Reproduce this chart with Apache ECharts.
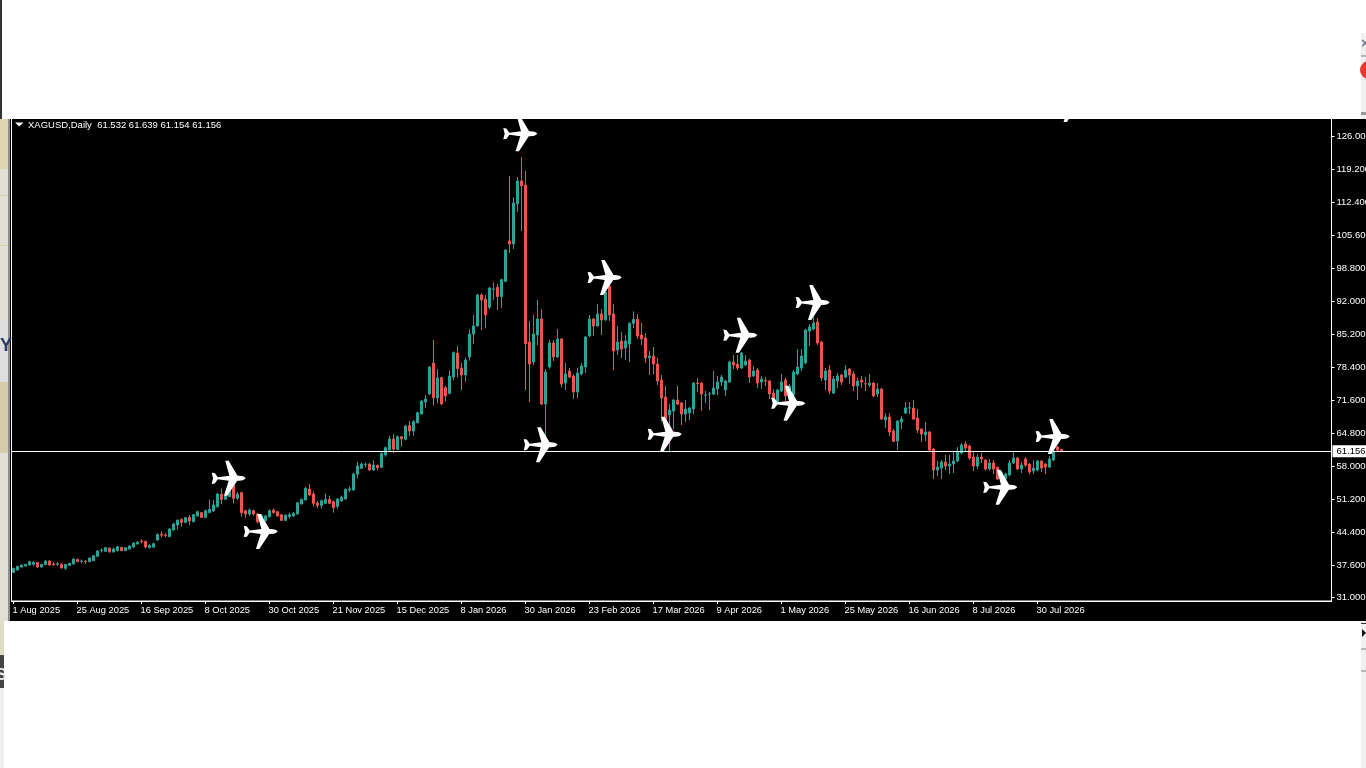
<!DOCTYPE html>
<html><head><meta charset="utf-8">
<style>html,body{margin:0;padding:0;background:#fff;overflow:hidden}#c{width:1366px;height:768px}</style>
<script src="https://cdn.jsdelivr.net/npm/echarts@6/dist/echarts.min.js"></script>
</head><body><div id="c"></div>
<script>
const tickLabels=["1 Aug 2025","25 Aug 2025","16 Sep 2025","8 Oct 2025","30 Oct 2025","21 Nov 2025","15 Dec 2025","8 Jan 2026","30 Jan 2026","23 Feb 2026","17 Mar 2026","9 Apr 2026","1 May 2026","25 May 2026","16 Jun 2026","8 Jul 2026","30 Jul 2026"];
const priceTicks=[31,37.6,44.4,51.2,58,64.8,71.6,78.4,85.2,92,98.8,105.6,112.4,119.2,126];
const opens=[36.19,36.67,37.29,37.50,37.70,37.84,38.25,37.29,37.77,38.53,
37.91,37.84,37.91,37.02,37.63,37.91,38.87,38.50,38.50,38.39,
38.59,39.49,40.70,40.52,41.20,40.38,40.66,41.34,40.66,41.00,
41.41,42.03,42.60,42.58,41.34,41.40,42.85,44.02,43.90,43.54,
44.91,45.94,47.11,46.49,47.52,46.63,47.80,48.49,47.52,48.49,
48.83,49.72,52.33,51.23,51.80,54.19,51.44,52.61,48.90,48.21,
48.90,48.21,47.10,46.84,47.66,49.03,48.69,48.07,46.90,47.66,
47.80,48.21,50.27,51.10,53.36,52.33,50.48,50.00,50.41,51.23,
50.75,49.79,50.89,51.30,53.20,53.16,56.40,57.62,58.42,58.51,
57.28,58.24,57.83,60.37,61.40,63.66,61.53,64.15,63.60,66.41,
65.31,67.03,68.82,71.29,72.94,79.33,72.11,76.30,74.24,73.07,
76.44,81.38,78.29,76.85,80.56,85.30,86.95,93.34,92.51,90.80,
94.50,94.92,93.00,96.15,104.47,103.85,112.16,116.83,116.00,83.65,
79.53,85.09,88.39,70.88,78.50,83.45,80.56,84.27,75.20,77.68,
76.65,73.35,77.06,78.50,84.89,88.39,86.95,89.42,88.19,95.19,
89.42,82.00,83.86,82.42,83.24,87.50,88.32,85.10,84.48,80.36,
80.77,79.12,75.82,72.32,68.61,69.43,71.70,71.08,68.82,69.02,
69.85,75.20,75.20,72.70,72.94,72.94,73.97,75.41,73.76,75.41,
79.53,79.12,78.30,78.91,79.94,76.65,77.88,75.41,75.65,75.62,
73.14,71.29,73.56,75.82,72.73,72.73,77.06,78.30,79.33,85.92,
86.33,87.77,83.65,75.82,77.88,73.14,75.62,76.85,76.44,78.09,
77.06,74.59,75.82,75.05,74.79,75.20,72.94,73.97,67.58,68.20,
65.31,63.25,67.17,69.02,70.05,70.05,67.99,65.72,64.49,65.10,
61.60,57.27,57.68,58.92,58.10,58.51,59.13,60.78,62.63,62.22,
59.95,58.10,59.95,59.33,57.48,58.72,57.82,55.50,55.42,56.24,
58.72,59.75,57.48,59.54,58.51,57.07,57.27,59.13,58.51,57.89,
59.33,62.01,61.532];
const closes=[37.01,37.43,37.70,37.84,38.39,38.25,37.29,37.84,38.53,37.70,
37.77,37.98,37.08,37.84,38.05,38.94,38.39,38.53,38.43,39.14,
39.62,40.59,40.75,41.27,40.38,41.00,41.48,40.66,41.27,41.62,
42.23,42.44,42.50,41.41,41.75,42.10,44.02,43.85,43.75,45.12,
46.15,46.97,46.49,47.45,46.77,48.07,48.69,47.52,48.90,49.17,
50.07,52.33,51.23,51.92,53.20,51.44,52.33,48.49,48.21,49.03,
48.21,46.63,47.90,47.80,48.90,48.49,47.80,46.90,48.00,48.07,
48.35,50.55,51.23,53.50,52.13,50.41,50.00,50.96,51.23,50.41,
49.58,51.30,51.65,53.29,53.40,56.45,58.10,58.51,58.45,57.28,
58.31,57.76,60.71,61.88,63.66,61.60,64.15,63.66,66.34,65.31,
67.24,69.09,71.49,71.91,78.50,72.18,76.23,70.88,72.53,76.65,
81.45,78.16,76.85,79.94,85.30,86.95,93.34,92.31,89.22,94.78,
94.60,93.00,96.50,102.61,103.85,112.30,116.83,115.80,83.31,79.12,
85.30,88.39,70.88,77.47,83.45,80.56,84.27,75.00,77.06,76.44,
73.35,77.26,78.71,84.68,88.39,86.95,89.42,88.19,93.96,89.22,
81.80,83.65,82.21,83.86,87.50,88.32,84.89,84.27,80.36,80.77,
79.12,75.62,72.11,67.58,69.64,71.70,70.88,68.82,69.85,70.05,
75.20,75.10,72.94,72.75,73.00,74.17,75.41,76.44,75.62,79.53,
78.91,78.30,81.39,79.74,76.44,77.68,75.20,76.03,75.60,72.94,
71.70,73.76,75.41,72.53,74.59,77.47,78.50,80.77,86.13,86.75,
87.57,83.45,76.24,77.68,73.56,76.03,76.65,75.41,77.88,76.85,
74.59,75.62,75.41,75.00,75.20,72.53,73.97,67.78,68.20,65.10,
63.18,67.37,67.78,70.05,70.10,67.78,65.52,64.69,65.10,61.39,
57.27,57.89,58.92,58.10,58.51,59.13,61.19,62.43,61.81,59.75,
58.10,59.95,59.54,57.48,58.72,57.48,55.42,56.80,56.45,58.72,
59.75,57.48,58.30,58.30,56.86,57.68,59.13,57.68,57.89,59.54,
61.19,61.39,61.156];
const lows=[36.05,36.55,37.20,37.40,37.60,37.50,37.20,37.20,37.70,37.60,
37.50,37.50,37.00,36.74,37.55,37.80,38.30,38.11,37.91,38.30,
38.50,39.40,40.31,40.40,40.30,40.30,40.50,40.55,40.60,40.90,
41.30,41.95,42.17,41.13,41.07,41.20,42.70,43.40,43.40,43.50,
44.80,45.00,45.60,46.30,45.90,46.50,47.70,47.40,47.40,48.40,
48.70,49.60,50.27,51.10,51.70,50.41,51.10,47.66,47.46,47.80,
47.90,46.30,46.80,46.70,47.50,48.30,47.70,46.80,46.80,47.30,
47.70,48.10,50.20,51.00,51.90,49.72,49.40,49.31,50.30,50.30,
48.49,49.30,50.80,51.20,52.70,53.00,55.60,57.50,57.80,57.10,
57.10,57.20,57.70,60.00,61.30,60.70,61.40,62.10,63.40,64.28,
64.35,66.90,68.70,70.05,72.80,70.53,71.01,70.70,71.36,72.90,
75.82,76.37,73.76,75.48,79.80,83.24,86.80,86.13,86.47,90.45,
92.31,90.25,90.66,96.00,102.00,102.82,110.44,106.53,73.76,71.29,
78.91,83.03,70.67,64.14,78.20,79.74,80.40,74.31,73.76,76.20,
71.91,72.11,76.80,77.26,84.70,84.89,86.80,85.09,88.00,88.00,
77.88,81.00,80.36,79.94,79.53,86.54,84.27,83.04,79.33,76.85,
77.06,74.79,67.24,65.50,60.92,65.73,70.67,66.55,67.17,67.58,
68.82,73.35,69.43,71.08,69.64,72.73,72.73,74.59,72.53,75.20,
78.09,77.88,78.10,78.70,75.20,76.44,74.17,73.97,74.59,71.91,
70.67,71.00,73.30,71.50,72.40,72.50,76.80,77.68,79.10,82.83,
86.10,83.04,75.62,73.76,72.94,72.94,74.17,74.79,76.24,75.00,
73.56,71.70,74.17,73.56,74.38,72.30,72.32,67.58,65.93,64.28,
63.04,61.39,65.72,68.81,68.81,67.60,64.90,63.04,63.25,61.20,
55.42,56.04,55.42,57.27,56.45,56.66,58.92,60.50,61.19,59.33,
57.07,57.48,58.72,57.07,57.20,56.45,55.20,55.00,55.20,56.00,
58.50,57.27,56.66,57.89,56.45,56.45,57.00,56.86,56.45,57.70,
59.10,60.98,61.154];
const highs=[37.15,37.55,37.85,37.95,38.55,38.53,38.35,37.95,38.75,38.70,
38.25,38.32,38.00,37.90,38.15,39.05,39.00,38.87,38.73,39.25,
39.70,40.80,41.13,41.45,41.30,41.30,41.65,41.45,41.35,41.80,
42.40,42.60,43.06,42.70,41.96,42.30,44.20,44.60,44.30,45.30,
46.40,47.10,47.30,47.60,48.00,48.20,48.90,48.60,49.10,51.23,
51.10,52.60,53.50,52.60,54.00,54.60,52.80,52.80,49.10,49.40,
49.10,48.40,48.20,48.00,49.20,49.37,48.80,48.20,48.10,48.50,
48.60,50.70,51.40,53.80,54.39,52.90,50.90,51.20,52.47,52.00,
51.00,51.50,52.00,53.50,53.90,56.70,59.00,58.80,58.85,58.70,
59.30,58.40,60.90,62.10,64.30,64.69,64.40,64.30,66.60,67.37,
67.58,69.30,71.70,72.73,78.70,84.06,78.09,76.50,74.65,77.75,
81.70,82.83,79.39,80.49,86.26,89.22,93.60,93.68,93.34,95.00,
95.95,95.60,96.70,102.80,117.86,113.46,117.65,121.78,118.89,87.98,
89.22,92.31,90.45,78.09,84.06,84.06,86.33,84.50,79.33,78.30,
77.00,78.30,79.33,84.90,89.22,88.60,91.48,90.45,95.05,95.50,
91.48,86.95,85.71,85.09,87.70,89.97,89.42,87.57,85.51,81.80,
82.62,80.36,76.85,74.59,70.88,71.90,74.59,71.30,71.70,70.30,
75.41,76.24,75.40,73.56,73.35,77.68,76.65,76.85,75.80,79.80,
80.97,80.97,81.60,80.97,80.20,78.71,78.30,76.65,76.44,75.80,
73.97,74.00,77.06,76.24,75.00,77.88,82.21,82.21,86.40,87.36,
88.80,88.60,83.90,78.30,78.91,76.65,77.26,77.06,78.91,78.30,
77.68,76.24,76.65,76.44,77.06,75.40,75.20,74.20,69.02,69.02,
65.72,67.58,68.40,71.29,71.29,71.70,69.84,65.93,67.17,65.31,
61.80,59.13,59.33,60.37,60.37,61.19,62.01,62.84,63.25,62.50,
60.98,60.57,60.78,59.50,59.54,59.33,58.00,57.20,56.70,59.33,
60.98,60.00,58.92,59.95,58.70,59.33,59.33,59.30,58.65,60.16,
61.50,62.22,61.639];
const planeBars=[53.8,61.8,126.7,131.8,147.8,162.8,181.7,193.7,199.8,246.7,259.8,263.7];
const planePrices=[55.57,44.61,126.58,62.49,96.95,64.64,85.06,71.02,91.79,53.72,64.18,132.61];
const lastPrice=61.156;
const headerText="XAGUSD,Daily  61.532 61.639 61.154 61.156";

const FONT='"Liberation Sans",Arial,sans-serif';
const BARS=330, SPAN=16;
const categories=Array.from({length:BARS},(_,i)=>String(i));
const candles=opens.map((o,i)=>[o,closes[i],lows[i],highs[i]]);
const planes=planeBars.map((b,i)=>[b,planePrices[i]]);
const PLANE='path://M100 50C96 45 88 43 80 43L76 43L50 0L40 0L52 43L18 47L9 35L0 34L4 50L0 66L9 65L18 53L50 57L36 100L46 100L75 57L80 57C88 57 96 55 100 50Z';
const rect=(x,y,w,h,fill,z)=>({type:'rect',shape:{x,y,width:w,height:h},style:{fill},z:z==null?100:z,silent:true});
const showBar=(i)=>i%SPAN===0&&i/SPAN<tickLabels.length;
const chart=echarts.init(document.getElementById('c'),null,{renderer:'canvas',width:1366,height:768});
chart.setOption({
 animation:false,backgroundColor:'#ffffff',
 title:{text:headerText,left:28,top:119,padding:0,textStyle:{color:'#ffffff',fontFamily:FONT,fontSize:9.5,fontWeight:'normal',lineHeight:12},z:50},
 grid:{left:11.5,top:118,width:1320,height:483,show:true,backgroundColor:'transparent',borderColor:'#ffffff',borderWidth:1,outerBoundsMode:'none',containLabel:false},
 xAxis:[{type:'category',data:categories,boundaryGap:true,position:'bottom',
   axisLine:{show:true,onZero:false,lineStyle:{color:'#fff'}},
   axisTick:{show:true,length:3,alignWithLabel:true,interval:showBar,lineStyle:{color:'#fff'}},
   axisLabel:{color:'#fff',fontFamily:FONT,fontSize:9.3,margin:5,align:'left',hideOverlap:false,showMinLabel:true,showMaxLabel:true,
     interval:showBar,formatter:(v,i)=>tickLabels[i/SPAN]||'',padding:[0,0,0,-1]},
   splitLine:{show:false}},
  {type:'value',min:-0.5,max:BARS-0.5,show:false}],
 yAxis:{type:'value',position:'right',min:30.29,max:129.81,scale:true,
   axisLine:{show:true,onZero:false,lineStyle:{color:'#fff'}},
   axisTick:{show:true,length:3,customValues:priceTicks,lineStyle:{color:'#fff'}},
   axisLabel:{color:'#fff',fontFamily:FONT,fontSize:9.5,margin:5,customValues:priceTicks,formatter:(v)=>(+v).toFixed(3),hideOverlap:false},
   splitLine:{show:false}},
 series:[
  {type:'candlestick',name:'XAGUSD',xAxisIndex:0,data:candles,barWidth:2,z:3,clip:true,
   itemStyle:{color:'#26a69a',color0:'#ef5350',borderColor:'#26a69a',borderColor0:'#ef5350',borderWidth:1},
   markLine:{silent:true,symbol:'none',animation:false,data:[{yAxis:lastPrice}],lineStyle:{color:'#ffffff',width:1,type:'solid'},
     label:{show:true,position:'end',distance:1,formatter:()=>lastPrice.toFixed(3),color:'#000',backgroundColor:'#fff',fontFamily:FONT,fontSize:9.5,padding:[1,8,1,4]}}},
  {type:'scatter',name:'planes',xAxisIndex:1,data:planes,symbol:PLANE,symbolSize:[34,35],symbolKeepAspect:false,clip:false,z:6,
   itemStyle:{color:'#ffffff',opacity:1},silent:true}
 ],
 graphic:{elements:[
  rect(10,119,1356,502,'#000000',-10),
  rect(0,0,2,119,'#333333'),
  rect(2,0,1359,119,'#ffffff'),
  rect(1361,33,5,86,'#f0f0f0'),
  rect(1361,55,5,2,'#b5b5b5'),
  rect(1361,112,5,3,'#9a9a9a'),
  {type:'text',x:1361,y:37,style:{text:'×',fill:'#6f7a88',font:'bold 14px '+FONT},z:101,silent:true},
  {type:'circle',shape:{cx:1369,cy:70,r:9},style:{fill:'#e5392e'},z:101,silent:true},
  rect(0,119,8,502,'#e2e0d6',90),
  rect(0,119,8,50,'#ddd6b0',91),
  rect(0,195,8,1,'#d6cf9f',91),rect(0,245,8,1,'#d6cf9f',91),
  rect(0,320,8,62,'#dedede',91),
  rect(0,382,8,71,'#d5cda9',91),
  rect(8,119,2,502,'#8f8f8f',91),
  {type:'text',x:0,y:337,style:{text:'Y',fill:'#2a3a60',font:'bold 18px '+FONT},z:95,silent:true},
  rect(4,621,1357,147,'#ffffff'),
  rect(0,621,4,34,'#e0dcc6'),
  rect(0,655,4,33,'#444444'),
  {type:'text',x:-4,y:668,style:{text:'S',fill:'#eeeeee',font:'bold 16px '+FONT},z:101,silent:true},
  rect(0,688,4,80,'#eeeeee'),
  rect(1361,621,5,147,'#f0f0f0'),
  rect(1361,623,5,1,'#333333',101),
  {type:'polygon',shape:{points:[[1362,629],[1366,633],[1362,637]]},style:{fill:'#111111'},z:101,silent:true},
  rect(1361,648,5,2,'#b5b5b5',101),rect(1361,670,5,2,'#b5b5b5',101),
  {type:'polygon',shape:{points:[[15,122.5],[23.5,122.5],[19.2,126.5]]},style:{fill:'#ffffff'},z:60,silent:true}
 ]}
});
</script></body></html>
